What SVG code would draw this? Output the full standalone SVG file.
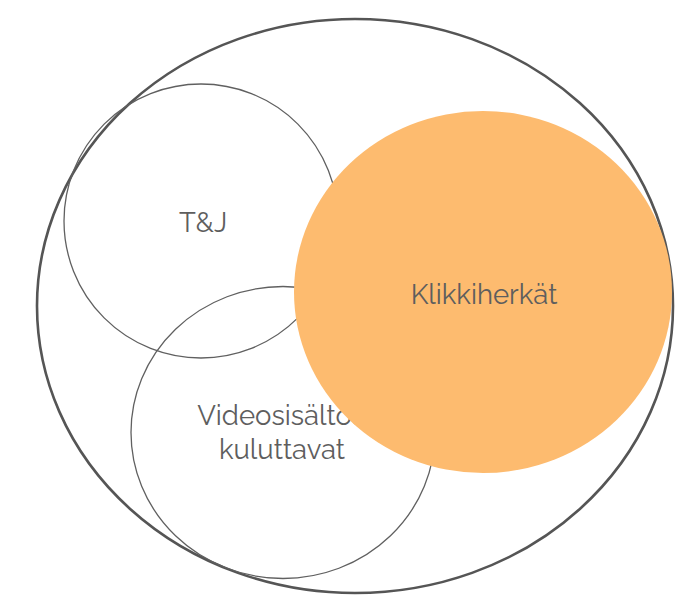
<svg xmlns="http://www.w3.org/2000/svg" width="700" height="612" viewBox="0 0 700 612">
<style>
.outer{fill:none;stroke:#555555;stroke-width:2.6}
.inner{fill:none;stroke:#606060;stroke-width:1.3}
.lbl{font-family:Raleway,Lato,"Open Sans","Liberation Sans",sans-serif;font-size:27.5px;fill:#5e5e5e;text-anchor:middle}
</style>
<rect width="700" height="612" fill="#ffffff"/>
<g id="kaikki"><ellipse class="outer" cx="355" cy="306" rx="318" ry="287"/></g>
<g id="tj"><circle class="inner" cx="201" cy="221" r="137"/><text class="lbl" x="203" y="232" font-size="26">T&amp;J</text></g>
<g id="video"><ellipse class="inner" cx="283" cy="432.5" rx="152" ry="146"/><text class="lbl" x="282" y="425">Videosisältöä</text><text class="lbl" x="282" y="459">kuluttavat</text></g>
<g id="klikki"><ellipse cx="483" cy="292" rx="189" ry="181" fill="#fdbb6f"/><text class="lbl" x="484" y="304">Klikkiherkät</text></g>
<g id="connectors"/>
</svg>
